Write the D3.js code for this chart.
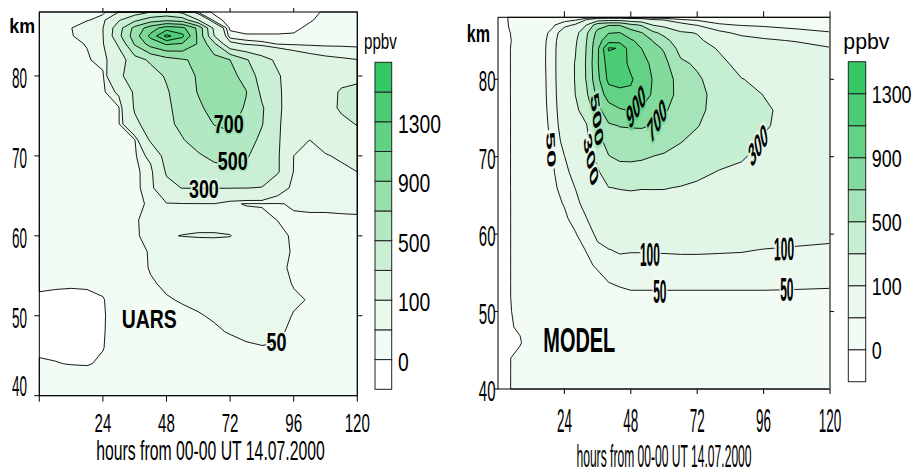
<!DOCTYPE html>
<html><head><meta charset="utf-8">
<script src="https://cdn.jsdelivr.net/npm/d3@7/dist/d3.min.js"></script>
<style>
html,body{margin:0;padding:0;background:#fff;}
svg{display:block;font-family:"Liberation Sans",Arial,Helvetica,sans-serif;}
</style></head><body>
<svg id="chart" width="913" height="475"></svg>
<script>
// ================= DATA =================
const uarsLevels  = [0, 50, 100, 300, 500, 700, 900, 1100, 1300, 1500];
const modelLevels = [0, 50, 100, 300, 500, 700, 900, 1100, 1300];
const uarsColors  = ["#ffffff","#f2fbf4","#e9f8ed","#def5e4","#caefd5","#b2e8c2","#97e0ac","#7cd998","#5fd283","#4acd74","#33c863"];
const modelColors = ["#ffffff","#f3fbf5","#eaf8ee","#e1f6e7","#c6efd2","#a5e4b8","#82da9d","#63d286","#4acd74","#33c863"];
const barTickLabels = [0, 100, 500, 900, 1300];
const xTicks = [24, 48, 72, 96, 120];
const yTicks = [40, 50, 60, 70, 80];
const xTitle = "hours from 00-00 UT 14.07.2000";

// grid rows (altitude, km) from top to bottom
const altitudes = [88,87,86,85,84,82,80,78,76,74,72,70,68,66,64,62,60,58,56,54,52,50,48,46,44,42,40];

// UARS grid columns (hours)
const uarsHours = [0,6,12,18,24,30,36,42,48,54,60,66,72,78,84,90,96,102,108,114,120];
// UARS ppbv, one row per altitude (top -> bottom)
const uarsPpbv = [
 [0,5,10,20,40,100,200,300,350,250,40,-10,-30,-30,-30,-30,-30,-10,5,20,25],
 [5,10,25,45,70,280,450,600,650,600,300,20,-20,-25,-25,-25,-20,-5,15,25,30],
 [10,20,48,90,98,420,760,1000,1200,1150,850,250,-10,-15,-15,-15,-10,10,25,30,32],
 [20,28,45,80,95,450,800,1150,1560,1350,850,300,20,5,5,5,6,20,32,35,38],
 [25,30,42,52,90,330,720,980,1120,1080,880,540,130,90,70,48,44,42,40,40,38],
 [28,30,38,45,65,200,420,530,620,680,740,780,700,520,380,260,180,140,120,110,102],
 [28,29,33,40,42,280,350,420,520,620,720,790,770,620,420,320,200,150,180,240,270],
 [28,29,31,36,38,120,330,400,480,600,710,790,800,710,460,340,170,140,230,320,330],
 [28,29,30,34,36,45,320,400,470,560,670,760,790,680,520,350,150,140,220,330,340],
 [28,28,30,32,34,45,260,380,460,540,640,705,730,640,510,340,120,115,170,250,310],
 [28,28,29,31,32,36,45,330,420,490,570,640,660,580,460,330,110,100,130,170,230],
 [28,28,29,30,31,34,40,130,380,430,480,540,560,520,420,320,100,90,95,110,130],
 [28,28,28,30,31,33,40,70,320,400,420,440,460,440,400,320,95,80,75,85,100],
 [28,28,28,29,31,36,42,65,250,305,305,306,305,303,295,150,80,65,62,62,62],
 [28,28,28,28,30,33,42,55,92,96,97,98,60,46,47,48,53,57,57,58,58],
 [28,28,28,28,29,31,46,62,80,86,90,90,88,78,60,49,46,44,44,45,46],
 [28,28,28,28,29,30,45,62,97,101,102.5,102.5,101,88,78,62,44,34,32,32,32],
 [28,28,28,28,28,30,35,54,66,72,78,82,84,80,74,60,47,34,30,30,30],
 [25,25,25,25,26,30,34,53,60,62,64,66,68,68,66,58,44,33,30,30,30],
 [12,10,8,10,12,28,32,46,56,58,60,62,64,66,66,62,48,35,30,30,30],
 [-12,-18,-20,-18,-3,26,31,36,47,53,56,59,62,65,66,64,55,48,30,30,30],
 [-15,-20,-22,-20,-5,25,30,33,37,42,48,53,58,62,64,62,48,32,30,30,30],
 [-15,-18,-20,-18,-4,25,30,32,34,38,42,46,52,58,62,58,40,30,30,30,30],
 [-8,-10,-12,-12,-2,25,30,30,30,31,33,36,40,45,48,47,40,30,30,30,30],
 [5,2,-2,-4,8,30,30,30,30,30,30,30,30,30,30,30,30,30,30,30,30],
 [30,30,30,30,30,30,30,30,30,30,30,30,30,30,30,30,30,30,30,30,30],
 [30,30,30,30,30,30,30,30,30,30,30,30,30,30,30,30,30,30,30,30,30]
];

// MODEL grid columns (hours)
const modelHours = [0,4,8,12,16,20,24,28,32,36,40,44,48,52,56,60,66,72,80,88,96,108,120];
// MODEL ppbv, one row per altitude (top -> bottom)
const modelPpbv = [
 [-15,2,4,6,8,10,12,15,15,15,20,20,20,20,20,20,20,20,25,25,25,25,25],
 [-14,1,4,15,30,45,80,110,305,620,690,690,550,480,295,250,130,95,55,48,45,38,35],
 [-14,-1,8,25,38,62,150,230,470,760,890,905,810,705,540,450,330,290,115,85,72,62,52],
 [-13,-3,12,30,40,68,180,270,498,820,1020,1020,920,850,690,560,390,340,200,125,110,95,80],
 [-13,-2,14,32,41,70,195,290,510,860,1320,1290,980,895,760,680,430,390,280,170,150,125,103],
 [-13,-2,14,32,41,71,200,310,520,880,1200,1180,1060,990,850,760,540,470,350,240,215,195,160],
 [-13,-2,14,31,40,70,195,310,515,850,1150,1150,1120,1020,890,790,630,530,400,305,265,235,200],
 [-13,-2,14,31,40,68,185,302,470,760,1000,1060,1070,980,880,770,650,560,425,345,298,255,225],
 [-13,-2,13,31,40,64,170,275,360,650,800,880,910,880,800,720,630,550,420,360,315,262,235],
 [-13,-2,13,31,39,60,150,235,292,520,680,705,710,715,690,650,580,510,395,355,310,262,235],
 [-13,-2,13,30,39,55,125,195,265,420,590,640,640,630,600,570,510,440,365,335,292,255,230],
 [-14,-2,13,30,38,51,98,160,235,340,490,540,545,530,497,480,430,380,330,310,270,240,220],
 [-14,-2,13,29,38,47,78,130,200,280,390,410,410,400,390,380,350,320,295,280,245,220,205],
 [-14,-2,13,29,37,44,62,102,165,235,298,305,310,305,305,305,295,285,262,245,215,198,185],
 [-14,-2,12,29,37,42,52,80,130,195,255,262,262,262,265,262,255,245,225,210,185,172,160],
 [-14,-2,12,28,36,40,45,60,98,155,208,213,210,210,212,215,210,200,185,170,155,145,135],
 [-14,-2,12,28,35,38,42,48,70,115,150,158,155,155,160,160,160,155,145,135,125,118,112],
 [-14,-2,12,28,34,36,39,44,51,85,98,108,105,105,106,106,108,108,106,104,99,95,92],
 [-14,-2,12,27,33,34,37,41,46,53,72,80,80,80,80,82,82,82,82,82,80,78,74],
 [-15,-2,12,27,32,33,35,38,42,44,51,55,60,60,60,60,60,60,60,60,60,58,56],
 [-15,-2,12,26,31,33,33,35,38,42,42,43,44,44,44,44,44,44,44,44,44,44,44],
 [-15,-3,10,25,31,33,34,36,37,39,40,41,41,41,41,41,41,41,41,41,41,41,41],
 [-15,-3,4,24,31,33,34,35,36,37,37,38,38,38,38,38,38,38,38,38,38,38,38],
 [-15,-3,-3,22,30,32,33,34,34,35,35,36,36,36,36,36,36,36,36,36,36,36,36],
 [-15,-2,11,24,29,31,32,32,32,33,33,34,34,34,34,34,34,34,34,34,34,34,34],
 [-15,-2,12,23,28,30,31,31,31,31,31,32,32,32,32,32,32,32,32,32,32,32,32],
 [-15,-2,12,22,27,29,30,30,30,30,30,30,30,30,30,30,30,30,30,30,30,30,30]
];

// contour labels: text, position (hours, km), visual angle (deg)
const uarsContourLabels = [
 {text:"700", h:71.5, km:74.0, angle:0},
 {text:"500", h:73.0, km:69.3, angle:0},
 {text:"300", h:62.1, km:65.8, angle:0},
 {text:"50",  h:89.5, km:46.65, angle:0}
];
const modelContourLabels = [
 {text:"50",  h:19.2, km:70.9, angle:88},
 {text:"300", h:33.6, km:69.6, angle:80},
 {text:"500", h:35.8, km:74.8, angle:84},
 {text:"900", h:49.9, km:76.5, angle:-60},
 {text:"700", h:57.5, km:74.7, angle:-60},
 {text:"300", h:94.0, km:71.5, angle:-58},
 {text:"100", h:54.9, km:57.3, angle:0},
 {text:"100", h:103.4, km:58.1, angle:-2},
 {text:"50",  h:58.5, km:52.6, angle:0},
 {text:"50",  h:104.4, km:52.8, angle:0}
];

// ================= DRAWING =================
const svg = d3.select("#chart");

function addText(g, str, x, y, o) {
  const t = g.append("text")
    .attr("transform", `translate(${x},${y}) scale(${o.sx ?? 1},${o.sy ?? 1}) rotate(${o.rot || 0})`)
    .attr("font-size", o.fs)
    .attr("text-anchor", o.anchor || "start")
    .attr("fill", "#000")
    .text(str);
  if (o.bold) t.attr("font-weight", "bold");
  if (o.central) t.attr("dominant-baseline", "central");
  if (o.halo) t.attr("stroke", o.halo).attr("stroke-width", o.hw || 5)
      .attr("paint-order", "stroke").attr("stroke-linejoin", "round");
  return t;
}

function drawPanel(cfg) {
  const nx = cfg.hours.length, ny = altitudes.length;
  const x = d3.scaleLinear().domain([0, 120]).range([cfg.x0, cfg.x1]);
  const y = d3.scaleLinear().domain([40, 88]).range([cfg.yb, cfg.yt]);
  const ix = d3.scaleLinear().domain(d3.range(nx)).range(cfg.hours).clamp(true);
  const iy = d3.scaleLinear().domain(d3.range(ny)).range(altitudes).clamp(true);
  const flat = cfg.grid.flat();
  const contours = d3.contours().size([nx, ny]).thresholds(cfg.levels)(flat);
  const proj = p => [x(ix(p[0] - 0.5)), y(iy(p[1] - 0.5))];
  const pathOf = mp => mp.coordinates.map(poly => poly.map(ring =>
      "M" + ring.map(p => proj(p).map(v => v.toFixed(2)).join(",")).join("L") + "Z").join("")).join("");

  const bandColor = v => {
    let k = 0;
    cfg.levels.forEach((l, i) => { if (v >= l) k = i + 1; });
    return cfg.colors[k];
  };
  const valueAt = (h, km) => {
    const fi = ix.invert(h), fj = iy.invert(km);
    const i0 = Math.min(nx - 2, Math.floor(fi)), j0 = Math.min(ny - 2, Math.floor(fj));
    const a = fi - i0, b = fj - j0, G = cfg.grid;
    return (1-a)*(1-b)*G[j0][i0] + a*(1-b)*G[j0][i0+1] + (1-a)*b*G[j0+1][i0] + a*b*G[j0+1][i0+1];
  };

  const g = svg.append("g");
  g.append("rect").attr("x", cfg.x0).attr("y", cfg.yt).attr("width", cfg.x1 - cfg.x0)
    .attr("height", cfg.yb - cfg.yt).attr("fill", cfg.colors[0]);
  const fills = g.append("g");
  contours.forEach((c, i) => fills.append("path").attr("d", pathOf(c))
      .attr("fill", cfg.colors[i + 1]).attr("fill-rule", "evenodd"));
  const lines = g.append("g");
  contours.forEach(c => lines.append("path").attr("d", pathOf(c))
      .attr("fill", "none").attr("stroke", "#000").attr("stroke-width", 0.9).attr("stroke-linejoin", "round"));

  // contour labels
  cfg.labels.forEach(L => {
    const vis = L.angle * Math.PI / 180;
    const rot = Math.atan2(Math.sin(vis) / cfg.cl.sy, Math.cos(vis) / cfg.cl.sx) * 180 / Math.PI;
    addText(g, L.text, x(L.h), y(L.km), {fs: cfg.cl.fs, sx: cfg.cl.sx, sy: cfg.cl.sy, rot,
      anchor: "middle", central: true, bold: true, halo: bandColor(valueAt(L.h, L.km)), hw: cfg.cl.hw});
  });

  // frame
  g.append("rect").attr("x", cfg.x0).attr("y", cfg.yt).attr("width", cfg.x1 - cfg.x0)
    .attr("height", cfg.yb - cfg.yt).attr("fill", "none").attr("stroke", "#000").attr("stroke-width", 1);
  if (cfg.rightBorder) g.append("line").attr("x1", cfg.x1).attr("x2", cfg.x1).attr("y1", cfg.yt).attr("y2", cfg.yb)
    .attr("stroke", cfg.rightBorder).attr("stroke-width", 1.6);

  const tk = g.append("g").attr("stroke", "#000").attr("stroke-width", 1);
  yTicks.forEach(v => tk.append("line").attr("x1", cfg.x0 - cfg.tl).attr("x2", cfg.x0).attr("y1", y(v)).attr("y2", y(v)));
  yTicks.filter(v => v > 40).forEach(v => tk.append("line").attr("x1", cfg.x1).attr("x2", cfg.x1 + cfg.tl).attr("y1", y(v)).attr("y2", y(v)));
  cfg.bottomTicks.forEach(v => tk.append("line").attr("x1", x(v)).attr("x2", x(v)).attr("y1", cfg.yb).attr("y2", cfg.yb + cfg.btl));
  cfg.topTicks.forEach(v => tk.append("line").attr("x1", x(v)).attr("x2", x(v)).attr("y1", cfg.yt - cfg.ttl).attr("y2", cfg.yt));

  // tick labels
  yTicks.forEach(v => {
    let cy = y(v) + cfg.yl.dy;
    if (cfg.yl.clamp) cy = Math.min(cy, cfg.yb - 0.358 * cfg.yl.fs);
    addText(g, String(v), cfg.yl.x, cy + 0.358 * cfg.yl.fs, {fs: cfg.yl.fs, sx: cfg.yl.sx, anchor: "end"});
  });
  xTicks.forEach(v => addText(g, String(v), x(v), cfg.xl.y, {fs: cfg.xl.fs, sx: cfg.xl.sx, anchor: "middle"}));
  addText(g, xTitle, cfg.title.x, cfg.title.y, {fs: cfg.title.fs, sx: cfg.title.sx, anchor: "middle"});
  addText(g, "km", cfg.km.x, cfg.km.y, {fs: cfg.km.fs, sx: cfg.km.sx, bold: true});
  addText(g, cfg.name, cfg.nm.x, cfg.nm.y, {fs: cfg.nm.fs, sx: cfg.nm.sx, bold: true});

  // colour bar
  const nb = cfg.colors.length;
  const by = d3.scaleLinear().domain([0, nb]).range([cfg.bar.bottom, cfg.bar.top]);
  const bg = svg.append("g");
  cfg.colors.forEach((c, i) => bg.append("rect").attr("x", cfg.bar.x).attr("y", by(i + 1))
      .attr("width", cfg.bar.w).attr("height", by(i) - by(i + 1)).attr("fill", c)
      .attr("stroke", "#222").attr("stroke-width", 1));
  addText(bg, "ppbv", cfg.ppbv.x, cfg.ppbv.y, {fs: cfg.ppbv.fs, sx: cfg.ppbv.sx});
  barTickLabels.forEach(v => {
    const i = cfg.levels.indexOf(v);
    addText(bg, String(v), cfg.bl.x, by(i + 1) + 0.358 * cfg.bl.fs + cfg.bl.dy, {fs: cfg.bl.fs, sx: cfg.bl.sx});
  });
}

drawPanel({
  name: "UARS", hours: uarsHours, grid: uarsPpbv, levels: uarsLevels, colors: uarsColors, labels: uarsContourLabels,
  x0: 39.3, x1: 357.3, yb: 395.7, yt: 12,
  tl: 5, btl: 6, ttl: 4, bottomTicks: [0, 24, 48, 72, 96, 120], topTicks: [24, 48, 72, 96],
  yl: {fs: 30, sx: 0.45, x: 27, dy: 1, clamp: true},
  xl: {fs: 25.6, sx: 0.59, y: 431.5},
  title: {fs: 27.5, sx: 0.574, x: 210.5, y: 460},
  km: {fs: 20.5, sx: 0.87, x: 9.3, y: 33.3},
  nm: {fs: 25.6, sx: 0.76, x: 121.7, y: 328.3},
  cl: {fs: 25.6, sx: 0.7, sy: 1, hw: 4},
  bar: {x: 375, w: 16.7, top: 62.3, bottom: 389.3},
  bl: {fs: 26.5, sx: 0.73, x: 398, dy: 1.5},
  ppbv: {fs: 21.3, sx: 0.71, x: 364, y: 48.8}
});

drawPanel({
  name: "MODEL", hours: modelHours, grid: modelPpbv, levels: modelLevels, colors: modelColors, labels: modelContourLabels,
  x0: 498, x1: 830, yb: 389, yt: 17.3, rightBorder: "#888",
  tl: 4, btl: 5, ttl: 6, bottomTicks: [24, 48, 72, 96, 120], topTicks: [24, 48, 72, 96, 120],
  yl: {fs: 30, sx: 0.5, x: 495.5, dy: 1.5, clamp: false},
  xl: {fs: 32.5, sx: 0.415, y: 431.5},
  title: {fs: 31, sx: 0.39, x: 664, y: 467},
  km: {fs: 23, sx: 0.7, x: 466.7, y: 41.7},
  nm: {fs: 35, sx: 0.57, x: 543.3, y: 351.7},
  cl: {fs: 20, sx: 0.6, sy: 1.63, hw: 4},
  bar: {x: 848.3, w: 17.4, top: 61.7, bottom: 381.7},
  bl: {fs: 23.3, sx: 0.77, x: 871.7, dy: 1},
  ppbv: {fs: 21.3, sx: 1.0, x: 843.3, y: 48.8}
});
</script>
</body></html>
